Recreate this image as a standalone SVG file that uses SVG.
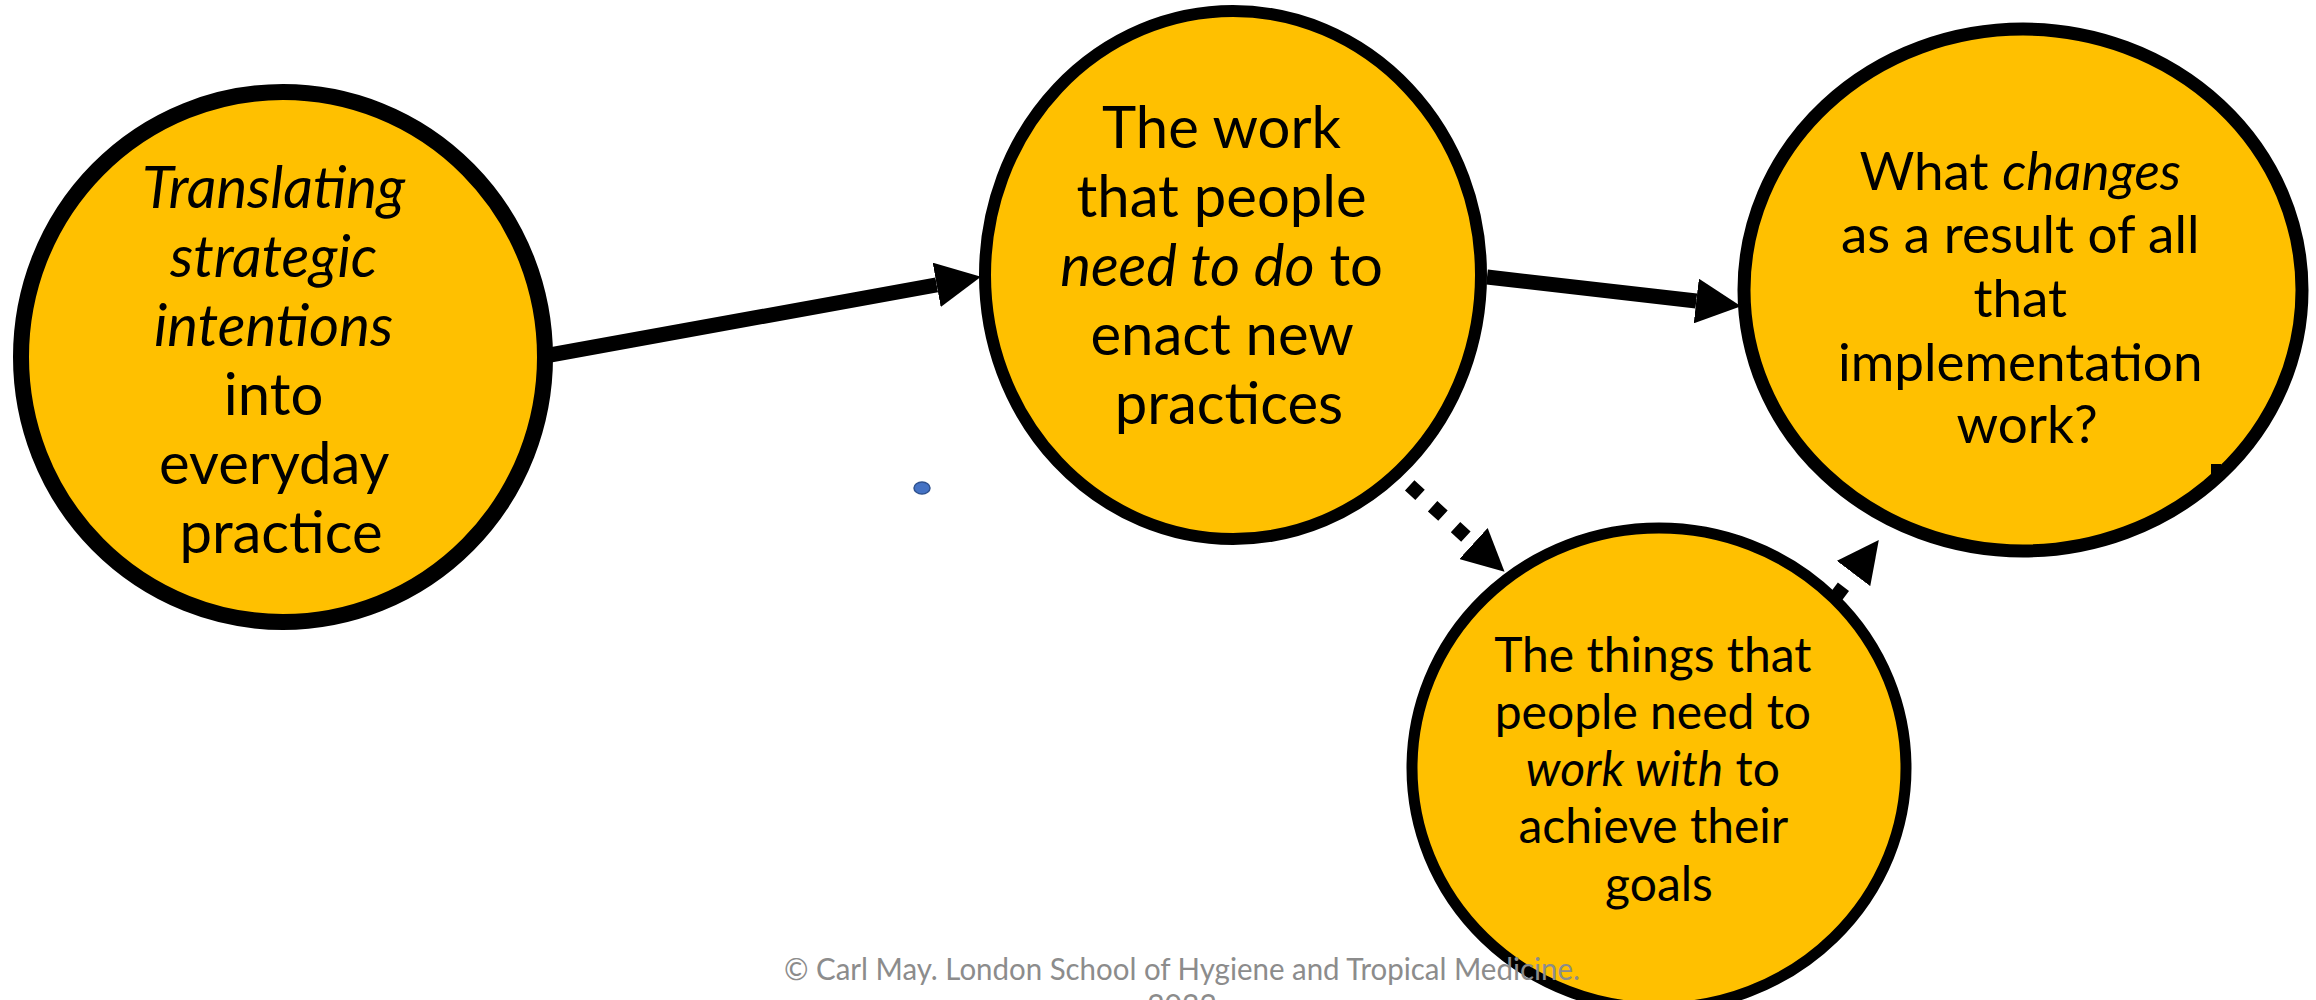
<svg xmlns="http://www.w3.org/2000/svg" width="2316" height="1000" viewBox="0 0 2316 1000">
  <style>
    .node { fill: #FFC000; stroke: #000; }
    .lbl { font-family: Lato, "Liberation Sans", sans-serif; fill: #000; text-anchor: middle; }
    .it { font-style: italic; }
    .conn { stroke: #000; fill: none; stroke-linecap: butt; }
    .dash { stroke-dasharray: 14 17; }
    .foot { font-family: Lato, "Liberation Sans", sans-serif; fill: #8C8C8C; font-size: 30px; text-anchor: middle; }
  </style>
  <defs>
    <marker id="head" viewBox="0 0 3 3" refX="0" refY="1.5" markerWidth="3" markerHeight="3" markerUnits="strokeWidth" orient="auto">
      <path d="M0,0 L3,1.5 L0,3 z" fill="#000"/>
    </marker>
  </defs>
  <rect width="2316" height="1000" fill="#fff"/>

  <g id="node-translating">
    <ellipse class="node" cx="283" cy="357" rx="262" ry="265" stroke-width="16"/>
    <text class="lbl" font-size="58">
      <tspan class="it" x="281" y="208">Translating</tspan>
      <tspan class="it" x="281" y="277">strategic</tspan>
      <tspan class="it" x="281" y="346">intentions</tspan>
      <tspan x="281" y="415">into</tspan>
      <tspan x="281" y="484">everyday</tspan>
      <tspan x="281" y="553">practice</tspan>
    </text>
  </g>

  <g id="node-work">
    <ellipse class="node" cx="1233" cy="275" rx="248" ry="264" stroke-width="12"/>
    <text class="lbl" font-size="58">
      <tspan x="1229" y="148">The work</tspan>
      <tspan x="1229" y="217">that people</tspan>
      <tspan x="1229" y="286"><tspan class="it">need to do</tspan> to</tspan>
      <tspan x="1229" y="355">enact new</tspan>
      <tspan x="1229" y="424">practices</tspan>
    </text>
  </g>

  <g id="node-changes">
    <ellipse class="node" cx="2023" cy="290" rx="279" ry="261" stroke-width="13"/>
    <rect x="2211" y="464" width="10" height="10" fill="#000"/>
    <text class="lbl" font-size="53">
      <tspan x="2027" y="190">What <tspan class="it">changes</tspan></tspan>
      <tspan x="2027" y="253">as a result of all</tspan>
      <tspan x="2027" y="317">that</tspan>
      <tspan x="2027" y="381">implementation</tspan>
      <tspan x="2027" y="443">work?</tspan>
    </text>
  </g>

  <g id="node-things">
    <ellipse class="node" cx="1659" cy="768" rx="247" ry="240" stroke-width="11"/>
    <text class="lbl" font-size="48">
      <tspan x="1659" y="672">The things that</tspan>
      <tspan x="1659" y="729">people need to</tspan>
      <tspan x="1659" y="786"><tspan class="it">work with</tspan> to</tspan>
      <tspan x="1659" y="843">achieve their</tspan>
      <tspan x="1659" y="901">goals</tspan>
    </text>
  </g>

  <g id="connectors">
    <line class="conn" x1="550" y1="355" x2="936.7" y2="284.9" stroke-width="15" marker-end="url(#head)"/>
    <line class="conn" x1="1487" y1="277" x2="1696.3" y2="301" stroke-width="15" marker-end="url(#head)"/>
    <line class="conn dash" x1="1409.7" y1="485.4" x2="1473.5" y2="543.5" stroke-width="14" marker-end="url(#head)"/>
    <line class="conn dash" x1="1835" y1="598" x2="1853.5" y2="573.5" stroke-width="14" marker-end="url(#head)"/>
  </g>

  <ellipse id="dot" cx="922" cy="488" rx="8" ry="6" fill="#4472C4" stroke="#2F528F" stroke-width="1.5"/>

  <g id="footer">
    <text class="foot" x="1182" y="980" textLength="796" lengthAdjust="spacingAndGlyphs">© Carl May. London School of Hygiene and Tropical Medicine.</text>
    <text class="foot" x="1182" y="1016">2022</text>
  </g>
</svg>
